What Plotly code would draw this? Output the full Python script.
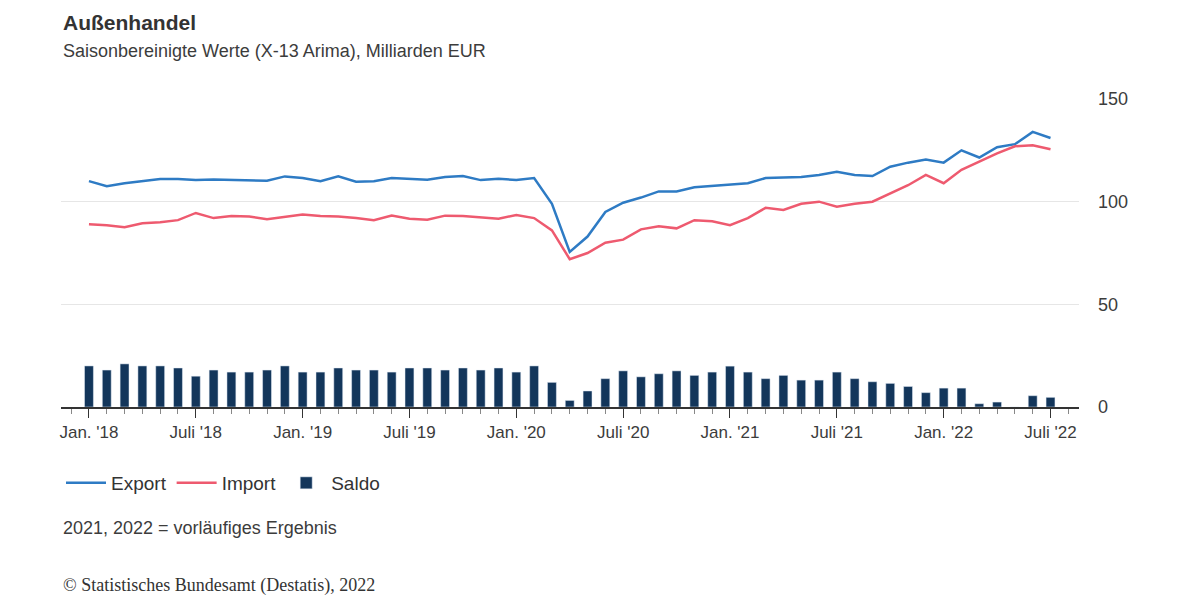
import plotly.graph_objects as go

# monthly values, Jan 2018 .. Jul 2022
months = list(range(55))
tick_pos = [0, 6, 12, 18, 24, 30, 36, 42, 48, 54]
tick_text = ["Jan. '18", "Juli '18", "Jan. '19", "Juli '19", "Jan. '20",
             "Juli '20", "Jan. '21", "Juli '21", "Jan. '22", "Juli '22"]

export = [110, 107.5, 109, 110, 111, 111, 110.5, 110.8, 110.5, 110.3, 110.2, 112.3,
          111.5, 110, 112.3, 109.7, 110, 111.5, 111, 110.7, 112, 112.5, 110.5, 111.2,
          110.5, 111.5, 99, 75.5, 83, 95, 99.5, 102, 105, 105, 107, 107.7,
          108.5, 109, 111.5, 111.7, 112, 113, 114.5, 113, 112.5, 117, 119, 120.5,
          119, 125, 121.5, 126.5, 128, 134, 131]
imports = [89, 88.5, 87.5, 89.5, 90, 91, 94.5, 92, 93, 92.8, 91.5, 92.5,
           93.8, 93, 92.8, 92, 91, 93.2, 91.7, 91.2, 93.2, 93, 92.2, 91.7,
           93.5, 92, 86, 72, 75, 80, 81.5, 86.5, 88, 87, 91, 90.5,
           88.5, 92, 97, 96, 99, 100, 97.5, 99, 100, 104, 108, 113,
           109, 115.5, 119.5, 123.5, 127, 127.5, 125.5]
saldo = [20, 18, 21, 20, 20, 19, 15, 18, 17, 17, 18, 20,
         17, 17, 19, 18, 18, 17, 19, 19, 18, 19, 18, 19,
         17, 20, 12, 3.2, 7.8, 13.8, 17.6, 14.7, 16.2, 17.6, 15.4, 17,
         19.9, 17, 13.8, 15.4, 13.1, 13.1, 17, 13.8, 12.3, 11.5, 10, 7,
         9.2, 9.2, 1.6, 2.4, 0, 5.5, 4.7]

BLUE = "#2e7bc4"
RED = "#ee5a6f"
NAVY = "#13365b"
FONT = "Liberation Sans, Arial, sans-serif"

fig = go.Figure()
fig.add_trace(go.Scatter(x=months, y=export, name="Export", mode="lines",
                         line=dict(color=BLUE, width=2.5)))
fig.add_trace(go.Scatter(x=months, y=imports, name="Import", mode="lines",
                         line=dict(color=RED, width=2.5)))
fig.add_trace(go.Bar(x=months, y=saldo, name="Saldo", marker_color=NAVY,
                     width=0.5))

fig.update_layout(
    width=1200, height=600, plot_bgcolor="white", paper_bgcolor="white",
    font=dict(family=FONT, size=17, color="#3c3c3c"),
    margin=dict(l=53, r=129, t=91, b=201),
    showlegend=True,
    legend=dict(orientation="h", x=0.0, xanchor="left", y=-0.185, yanchor="top",
                traceorder="normal", font=dict(size=19, color="#333"),
                itemwidth=40),
    xaxis=dict(range=[-1.57, 55.6], tickvals=tick_pos, ticktext=tick_text,
               showgrid=False, zeroline=False, showline=True, linecolor="#333",
               linewidth=1.5, ticks="outside", ticklen=9, tickcolor="#333",
               tickfont=dict(size=17, color="#3c3c3c"),
               minor=dict(ticks="outside", ticklen=5, tickcolor="#888",
                          tick0=0, dtick=1)),
    yaxis=dict(range=[0, 150], side="right", tickvals=[0, 50, 100, 150],
               showgrid=True, gridcolor="#e6e6e6", zeroline=False,
               tickfont=dict(size=18, color="#3c3c3c"), ticklabelstandoff=18),
)
fig.add_annotation(text="<b>Außenhandel</b>", xref="paper", yref="paper",
                   x=0, y=1.0, xanchor="left", yanchor="bottom",
                   yshift=63, showarrow=False, font=dict(size=21, color="#333"))
fig.add_annotation(text="Saisonbereinigte Werte (X-13 Arima), Milliarden EUR",
                   xref="paper", yref="paper", x=0, y=1.0, xanchor="left",
                   yanchor="bottom", yshift=36, showarrow=False,
                   font=dict(size=18, color="#3c3c3c"))
fig.add_annotation(text="2021, 2022 = vorläufiges Ergebnis", xref="paper",
                   yref="paper", x=0, y=0, yshift=-121, xanchor="left",
                   yanchor="middle", showarrow=False,
                   font=dict(size=18, color="#3c3c3c"))
fig.add_annotation(text="© Statistisches Bundesamt (Destatis), 2022",
                   xref="paper", yref="paper", x=0, y=0, yshift=-178,
                   xanchor="left", yanchor="middle", showarrow=False,
                   font=dict(size=18, color="#333",
                             family="Liberation Serif, Times New Roman, serif"))

fig.write_html("out.html")
